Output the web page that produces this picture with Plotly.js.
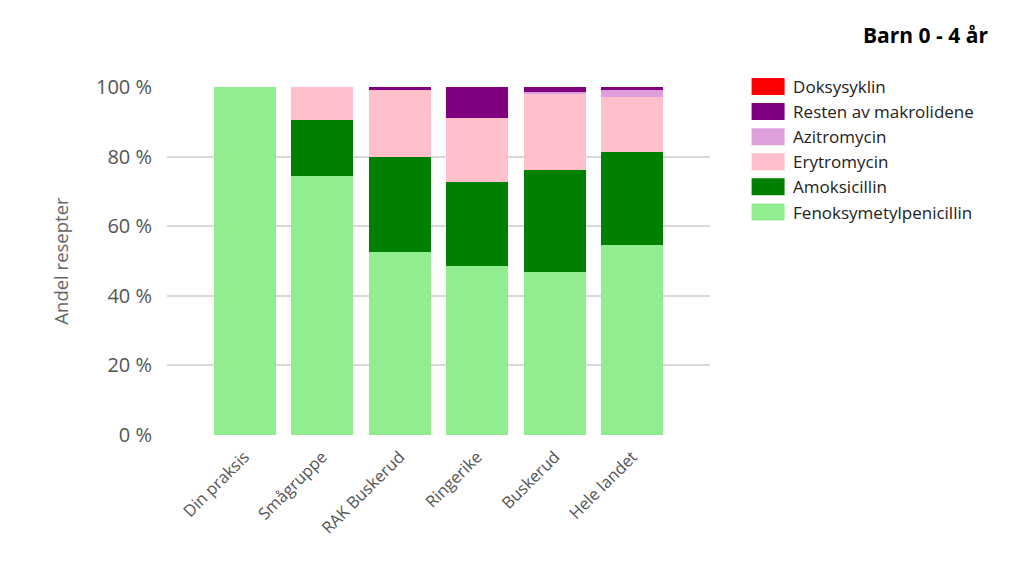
<!DOCTYPE html>
<html><head><meta charset="utf-8">
<script src="https://cdn.plot.ly/plotly-3.0.1.min.js"></script>
<style>html,body{margin:0;padding:0;background:#fff;}#c{width:1024px;height:575px;}</style>
</head><body><div id="c"></div>
<script>
const categories = ["Din praksis", "Smågruppe", "RAK Buskerud", "Ringerike", "Buskerud", "Hele landet"];
const fenoksymetylpenicillin = [100, 74.4, 52.7, 48.7, 46.8, 54.7];
const amoksicillin = [0, 16.1, 27.2, 24.1, 29.3, 26.7];
const erytromycin = [0, 9.5, 19.2, 18.4, 21.8, 15.7];
const azitromycin = [0, 0, 0, 0, 0.6, 2.0];
const restenAvMakrolidene = [0, 0, 0.9, 8.8, 1.5, 0.9];
const doksysyklin = [0, 0, 0, 0, 0, 0];
const tickValues = [0, 20, 40, 60, 80, 100];
const tickLabels = tickValues.map(v => v + " %");

const series = [
  {name: "Fenoksymetylpenicillin", y: fenoksymetylpenicillin, color: "#90EE90"},
  {name: "Amoksicillin", y: amoksicillin, color: "#008000"},
  {name: "Erytromycin", y: erytromycin, color: "#FFC0CB"},
  {name: "Azitromycin", y: azitromycin, color: "#DDA0DD"},
  {name: "Resten av makrolidene", y: restenAvMakrolidene, color: "#800080"},
  {name: "Doksysyklin", y: doksysyklin, color: "#FF0000"}
];

const traces = series.map(s => ({
  type: "bar", x: categories, y: s.y, name: s.name,
  marker: {color: s.color, line: {width: 0}},
  width: 0.8, hoverinfo: "x+y+name"
}));

const layout = {
  width: 1024, height: 575,
  barmode: "stack",
  paper_bgcolor: "#fff", plot_bgcolor: "#fff",
  font: {family: "Open Sans, Noto Sans, sans-serif", color: "#555"},
  margin: {l: 167, r: 314, t: 87, b: 140, pad: 0},
  showlegend: true,
  legend: {
    x: 1.072, xanchor: "left", y: 1.052, yanchor: "top",
    traceorder: "reversed",
    font: {size: 17, color: "#222"},
    itemwidth: 34, tracegroupgap: 0, bgcolor: "rgba(0,0,0,0)"
  },
  xaxis: {
    type: "category", range: [-1, 6],
    tickangle: -45, tickfont: {size: 16.5, color: "#555"},
    showgrid: false, zeroline: false, showline: false, ticks: "",
    ticklabelstandoff: 8
  },
  yaxis: {
    range: [0, 100], tickvals: tickValues, ticktext: tickLabels,
    tickfont: {size: 20, color: "#555"},
    showgrid: true, gridcolor: "#d9d9d9", gridwidth: 2,
    zeroline: false, showline: false, ticks: "", ticklabelstandoff: 14,
    title: {text: "Andel resepter", font: {size: 18.5, color: "#666"}, standoff: 22}
  },
  annotations: [{
    text: "<b>Barn 0 - 4 år</b>", xref: "paper", yref: "paper",
    x: 1.515, y: 1.149, xanchor: "right", yanchor: "middle", showarrow: false,
    font: {size: 21, color: "#000"}
  }]
};

Plotly.newPlot("c", traces, layout, {displayModeBar: false, staticPlot: true}).then(gd => {
  // widen legend swatches to rectangles like the reference
  gd.querySelectorAll(".legend .legendpoints path").forEach(p => {
    p.setAttribute("d", "M13.5,8.5H-19.5V-8.5H13.5Z");
  });
});
</script>
</body></html>
